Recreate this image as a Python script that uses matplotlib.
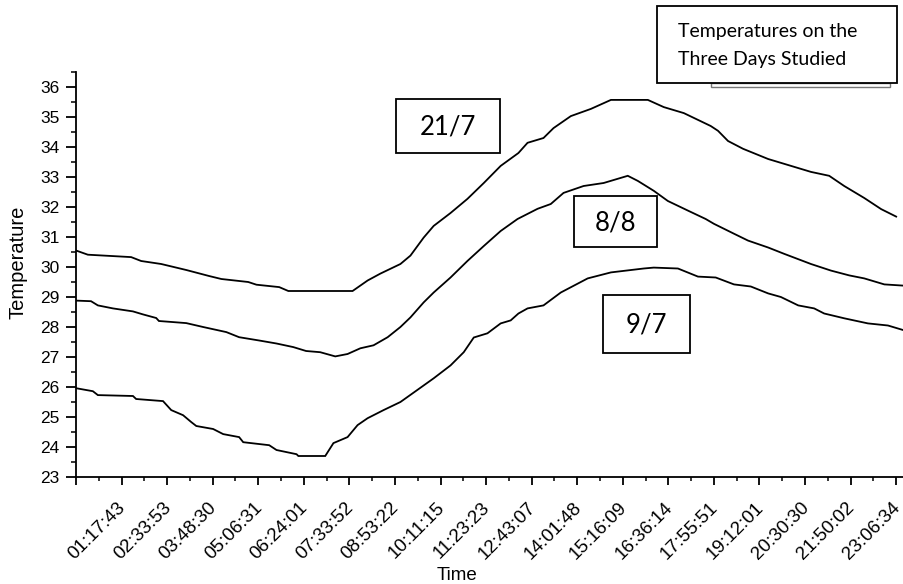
import matplotlib
matplotlib.use("Agg")
import matplotlib.pyplot as plt
from matplotlib.patches import Rectangle
from matplotlib.ticker import MultipleLocator, FixedLocator

plt.rcParams['font.family'] = ['Liberation Sans', 'DejaVu Sans']

time_labels = ["01:17:43", "02:33:53", "03:48:30", "05:06:31", "06:24:01", "07:33:52",
               "08:53:22", "10:11:15", "11:23:23", "12:43:07", "14:01:48", "15:16:09",
               "16:36:14", "17:55:51", "19:12:01", "20:30:30", "21:50:02", "23:06:34"]

# 21/7 series (x in sample-index units of the labelled ticks)
x_217 = [0, 0.26, 1.21, 1.43, 1.87, 2.42, 2.92, 3.19, 3.78, 3.96, 4.46, 4.66, 5.27, 6.07,
         6.40, 6.68, 7.12, 7.34, 7.63, 7.85, 8.22, 8.59, 8.95, 9.32, 9.71, 9.91, 10.26,
         10.48, 10.86, 11.30, 11.74, 12.55, 12.90, 13.34, 13.93, 14.09, 14.31, 14.64,
         15.19, 15.54, 16.13, 16.53, 16.86, 17.30, 17.67, 18.0]
y_217 = [30.55, 30.41, 30.33, 30.2, 30.1, 29.9, 29.7, 29.6, 29.5, 29.41, 29.33, 29.2, 29.2, 29.2,
         29.55, 29.78, 30.1, 30.38, 30.98, 31.37, 31.8, 32.27, 32.8, 33.37, 33.8, 34.14, 34.3,
         34.63, 35.03, 35.27, 35.57, 35.57, 35.33, 35.13, 34.7, 34.54, 34.2, 33.94,
         33.6, 33.44, 33.17, 33.04, 32.7, 32.3, 31.93, 31.68]

# 8/8 series
x_88 = [0, 0.33, 0.48, 0.81, 1.25, 1.47, 1.76, 1.82, 2.42, 2.79, 3.30, 3.58, 4.02, 4.40, 4.77,
        5.05, 5.36, 5.69, 5.96, 6.24, 6.53, 6.84, 7.12, 7.34, 7.63, 7.85, 8.22, 8.59, 8.95,
        9.32, 9.69, 10.13, 10.42, 10.70, 11.14, 11.58, 12.11, 12.33, 12.68, 12.99, 13.43,
        13.82, 14.0, 14.44, 14.75, 15.19, 15.54, 16.13, 16.57, 16.97, 17.30, 17.74, 18.15]
y_88 = [28.88, 28.86, 28.72, 28.62, 28.52, 28.42, 28.3, 28.2, 28.13, 28.0, 27.83, 27.66, 27.55,
        27.45, 27.33, 27.2, 27.16, 27.02, 27.1, 27.29, 27.39, 27.66, 28.0, 28.32, 28.82, 29.15,
        29.65, 30.2, 30.7, 31.2, 31.6, 31.94, 32.1, 32.47, 32.7, 32.8, 33.04, 32.87, 32.54,
        32.2, 31.88, 31.6, 31.44, 31.11, 30.88, 30.65, 30.44, 30.1, 29.88, 29.72, 29.62,
        29.42, 29.38]

# 9/7 series
x_97 = [0, 0.37, 0.48, 1.25, 1.32, 1.91, 2.09, 2.35, 2.53, 2.64, 3.01, 3.23, 3.58, 3.67, 4.24,
        4.40, 4.84, 4.88, 5.47, 5.65, 5.96, 6.18, 6.40, 6.75, 7.12, 7.49, 7.85, 8.22, 8.51,
        8.73, 9.03, 9.32, 9.54, 9.71, 9.91, 10.26, 10.64, 11.23, 11.74, 12.46, 12.68, 13.21,
        13.65, 14.04, 14.44, 14.81, 15.19, 15.47, 15.85, 16.20, 16.42, 16.86, 17.38, 17.82,
        18.15]
y_97 = [25.96, 25.86, 25.73, 25.7, 25.6, 25.53, 25.23, 25.06, 24.83, 24.7, 24.6, 24.43, 24.33,
        24.16, 24.06, 23.9, 23.76, 23.7, 23.7, 24.13, 24.33, 24.73, 24.96, 25.23, 25.5, 25.9,
        26.29, 26.72, 27.16, 27.65, 27.79, 28.12, 28.22, 28.45, 28.62, 28.72, 29.15, 29.62,
        29.82, 29.95, 29.98, 29.95, 29.68, 29.65, 29.42, 29.35, 29.12, 29.0, 28.72, 28.62,
        28.45, 28.29, 28.12, 28.05, 27.9]

series_labels = ["21/7", "8/8", "9/7"]
title_lines = ["Temperatures on the", "Three Days Studied"]

W, H = 904, 584
fig = plt.figure(figsize=(W / 100, H / 100), dpi=100)
ax = fig.add_axes([76 / W, 1 - 477 / H, (903 - 76) / W, (477 - 72) / H])

for xs, ys in [(x_217, y_217), (x_88, y_88), (x_97, y_97)]:
    ax.plot(xs, ys, color='black', lw=1.3, solid_joinstyle='miter')

ax.set_xlim(0, 18.15)
ax.set_ylim(23, 36.5)
ax.spines['top'].set_visible(False)
ax.spines['right'].set_visible(False)
for s in ['left', 'bottom']:
    ax.spines[s].set_linewidth(1.3)

ax.xaxis.set_major_locator(FixedLocator(list(range(0, len(time_labels) + 1))))
ax.set_xticklabels([""] + time_labels, rotation=45, ha='right', va='center_baseline',
                   rotation_mode='anchor', fontsize=13.5)
ax.xaxis.set_minor_locator(FixedLocator([i + 0.5 for i in range(len(time_labels))]))
ax.yaxis.set_major_locator(MultipleLocator(1))
ax.yaxis.set_minor_locator(MultipleLocator(0.5))
ax.tick_params(axis='x', which='major', length=6, width=1.3, pad=13, direction='out')
ax.tick_params(axis='x', which='minor', length=3, width=1.1, direction='out')
ax.tick_params(axis='y', which='major', length=7.2, width=1.3, pad=4.5, labelsize=12.5,
               direction='out')
ax.tick_params(axis='y', which='minor', length=3.6, width=1.1, direction='out')

ax.set_xlabel("Time", fontsize=13.5)
ax.xaxis.set_label_coords((457 - 76) / (903 - 76), -0.222)
ax.set_ylabel("Temperature", fontsize=14.5)
ax.yaxis.set_label_coords((27 - 76) / (903 - 76), (477 - 262) / (477 - 72))

def fig_box(x0, y0, x1, y1, **kw):
    r = Rectangle((x0 / W, 1 - y1 / H), (x1 - x0) / W, (y1 - y0) / H,
                  transform=fig.transFigure, fill=True, facecolor='white',
                  edgecolor=kw.get('ec', 'black'), lw=kw.get('lw', 1.3), zorder=5)
    fig.add_artist(r)

boxes = [(396, 99, 500, 153), (574, 196, 657, 247), (603, 295, 690, 353)]
for (x0, y0, x1, y1), lab in zip(boxes, series_labels):
    fig_box(x0, y0, x1, y1)
    fig.text((x0 + x1) / 2 / W, 1 - ((y0 + y1) / 2 + 1) / H, lab, ha='center', va='center',
             fontsize=18.5, family=['Lato', 'DejaVu Sans'], zorder=6)

# title box with shadow line
fig_box(711, 83, 890, 87, ec='#777777', lw=1.0)
fig_box(657, 6, 897, 83)
fig.text(678 / W, 1 - 32 / H, title_lines[0], ha='left', va='center', fontsize=14,
         family=['Lato', 'DejaVu Sans'], zorder=6)
fig.text(678 / W, 1 - 60 / H, title_lines[1], ha='left', va='center', fontsize=14,
         family=['Lato', 'DejaVu Sans'], zorder=6)

fig.savefig("out.png", dpi=100)
